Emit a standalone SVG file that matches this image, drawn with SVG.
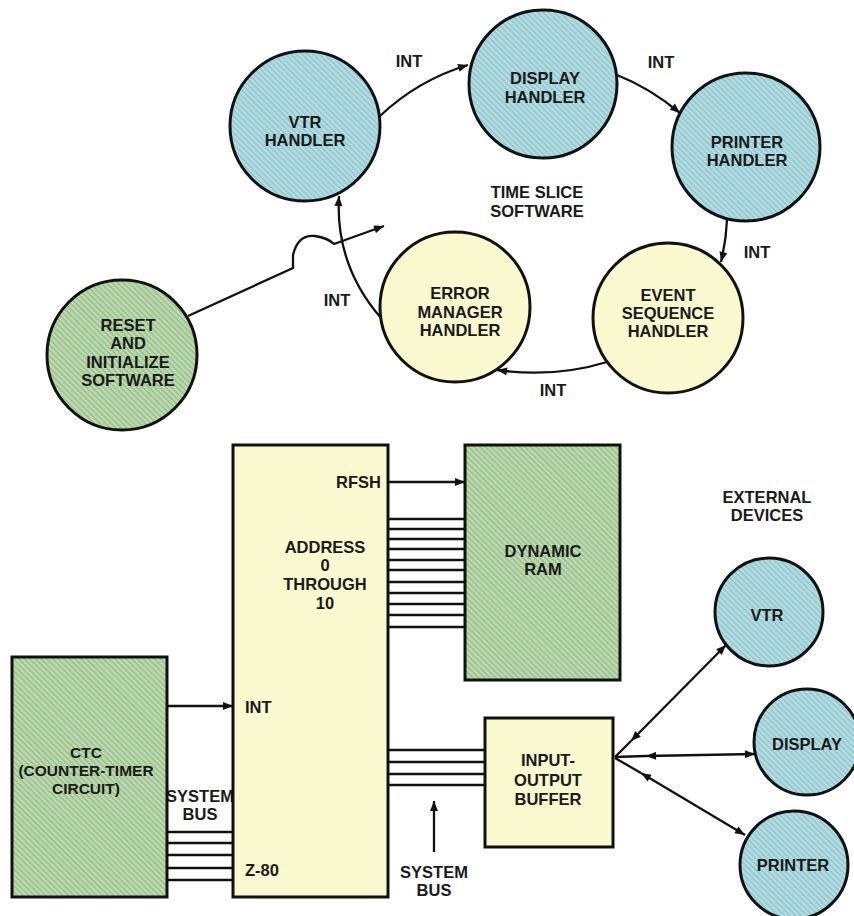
<svg xmlns="http://www.w3.org/2000/svg" width="854" height="916" viewBox="0 0 854 916">
<defs>
<pattern id="pb" width="4" height="4" patternUnits="userSpaceOnUse" patternTransform="rotate(45)">
<rect width="4" height="4" fill="#b4dde2"/><rect width="4" height="1.4" fill="#8fc3cb"/>
</pattern>
<pattern id="pg" width="4" height="4" patternUnits="userSpaceOnUse" patternTransform="rotate(45)">
<rect width="4" height="4" fill="#bedbb0"/><rect width="4" height="1.4" fill="#93bb88"/>
</pattern>
<marker id="ah" viewBox="0 0 10 8" refX="10" refY="4" markerWidth="12" markerHeight="8" markerUnits="userSpaceOnUse" orient="auto-start-reverse">
<path d="M0,0 L10,4 L0,8 Z" fill="#111"/>
</marker>
<style>
.blue{fill:url(#pb);stroke:#111;stroke-width:3}
.green{fill:url(#pg);stroke:#111;stroke-width:3}
.yel{fill:#fbf9d0;stroke:#111;stroke-width:3}
.t{font-family:"Liberation Sans",Arial,sans-serif;font-weight:bold;font-size:16.5px;fill:#1a1a1a;text-anchor:middle}
.s{font-size:15.5px}
.l{text-anchor:start}
.r{text-anchor:end}
.c{fill:none;stroke:#111;stroke-width:2.3}
.bus{stroke:#111;stroke-width:2.5}
</style>
</defs>
<rect width="854" height="916" fill="#ffffff"/>

<g id="connectors">
<path class="c" d="M380,116 Q418,80 468,65" marker-end="url(#ah)"/>
<path class="c" d="M617,75 Q650,88 680,113" marker-end="url(#ah)"/>
<path class="c" d="M727,220 Q726,242 721,262" marker-end="url(#ah)"/>
<path class="c" d="M607,362 Q555,378 497,370" marker-end="url(#ah)"/>
<path class="c" d="M381,318 Q335,265 339,196" marker-end="url(#ah)"/>
<path class="c" d="M188,316 L293,268 L293,255 Q298,234 315,236 Q328,238 334,244 L384,226" marker-end="url(#ah)"/>
<path class="c" d="M388,482 L465,482" marker-end="url(#ah)"/>
<g class="bus">
<line x1="388" y1="519" x2="465" y2="519"/>
<line x1="388" y1="529" x2="465" y2="529"/>
<line x1="388" y1="539" x2="465" y2="539"/>
<line x1="388" y1="549" x2="465" y2="549"/>
<line x1="388" y1="560" x2="465" y2="560"/>
<line x1="388" y1="570" x2="465" y2="570"/>
<line x1="388" y1="582" x2="465" y2="582"/>
<line x1="388" y1="593" x2="465" y2="593"/>
<line x1="388" y1="604" x2="465" y2="604"/>
<line x1="388" y1="615" x2="465" y2="615"/>
<line x1="388" y1="627" x2="465" y2="627"/>
</g>
<path class="c" d="M167,706 L233,706" marker-end="url(#ah)"/>
<g class="bus">
<line x1="167" y1="832" x2="233" y2="832"/>
<line x1="167" y1="843" x2="233" y2="843"/>
<line x1="167" y1="855" x2="233" y2="855"/>
<line x1="167" y1="868" x2="233" y2="868"/>
<line x1="167" y1="880" x2="233" y2="880"/>
</g>
<g class="bus">
<line x1="388" y1="750" x2="485" y2="750"/>
<line x1="388" y1="762" x2="485" y2="762"/>
<line x1="388" y1="774" x2="485" y2="774"/>
<line x1="388" y1="785" x2="485" y2="785"/>
</g>
<path class="c" d="M434,852 L434,801" marker-end="url(#ah)"/>
<path class="c" d="M615,757 L631,741"/>
<path class="c" d="M631,741 L726,645" marker-start="url(#ah)" marker-end="url(#ah)"/>
<path class="c" d="M615,757 L646,756"/>
<path class="c" d="M646,756 L755,754" marker-start="url(#ah)" marker-end="url(#ah)"/>
<path class="c" d="M615,758 L641,773"/>
<path class="c" d="M641,773 L745,835" marker-start="url(#ah)" marker-end="url(#ah)"/>
</g>

<g id="labels">
<text class="t" x="409" y="67">INT</text>
<text class="t" x="661" y="68">INT</text>
<text class="t" x="757" y="258">INT</text>
<text class="t" x="553" y="396">INT</text>
<text class="t" x="337" y="306">INT</text>
<text class="t" x="537" y="198">TIME SLICE</text>
<text class="t" x="537" y="217">SOFTWARE</text>
<text class="t" x="767" y="503">EXTERNAL</text>
<text class="t" x="767" y="521">DEVICES</text>
<text class="t" x="200" y="802">SYSTEM</text>
<text class="t" x="200" y="820">BUS</text>
<text class="t" x="434" y="878">SYSTEM</text>
<text class="t" x="434" y="896">BUS</text>
</g>

<g id="vtr-handler">
<circle class="blue" cx="305" cy="126" r="75"/>
<text class="t" x="305" y="128">VTR</text>
<text class="t" x="305" y="146">HANDLER</text>
</g>
<g id="display-handler">
<circle class="blue" cx="543" cy="84" r="74"/>
<text class="t" x="545" y="84">DISPLAY</text>
<text class="t" x="545" y="103">HANDLER</text>
</g>
<g id="printer-handler">
<circle class="blue" cx="746" cy="147" r="74"/>
<text class="t" x="747" y="148">PRINTER</text>
<text class="t" x="747" y="166">HANDLER</text>
</g>
<g id="event-sequence-handler">
<circle class="yel" cx="668" cy="318" r="75"/>
<text class="t" x="668" y="301">EVENT</text>
<text class="t" x="668" y="319">SEQUENCE</text>
<text class="t" x="668" y="337">HANDLER</text>
</g>
<g id="error-manager-handler">
<circle class="yel" cx="455" cy="307" r="75"/>
<text class="t" x="460" y="299">ERROR</text>
<text class="t" x="460" y="318">MANAGER</text>
<text class="t" x="460" y="336">HANDLER</text>
</g>
<g id="reset-initialize">
<circle class="green" cx="122" cy="355" r="75"/>
<text class="t" x="128" y="331">RESET</text>
<text class="t" x="128" y="349">AND</text>
<text class="t" x="128" y="368">INITIALIZE</text>
<text class="t" x="128" y="386">SOFTWARE</text>
</g>

<g id="z80">
<rect class="yel" x="233" y="445" width="155" height="452"/>
<text class="t r" x="381" y="488">RFSH</text>
<text class="t" x="325" y="553">ADDRESS</text>
<text class="t" x="325" y="571">0</text>
<text class="t" x="325" y="590">THROUGH</text>
<text class="t" x="325" y="609">10</text>
<text class="t l" x="245" y="713">INT</text>
<text class="t l" x="245" y="876">Z-80</text>
</g>
<g id="dynamic-ram">
<rect class="green" x="465" y="445" width="155" height="235"/>
<text class="t" x="543" y="557">DYNAMIC</text>
<text class="t" x="543" y="575">RAM</text>
</g>
<g id="ctc">
<rect class="green" x="12" y="657" width="155" height="240"/>
<text class="t s" x="86" y="758">CTC</text>
<text class="t s" x="86" y="776">(COUNTER-TIMER</text>
<text class="t s" x="86" y="794">CIRCUIT)</text>
</g>
<g id="io-buffer">
<rect class="yel" x="485" y="718" width="128" height="129"/>
<text class="t" x="548" y="766">INPUT-</text>
<text class="t" x="548" y="786">OUTPUT</text>
<text class="t" x="548" y="805">BUFFER</text>
</g>
<g id="vtr">
<circle class="blue" cx="769" cy="612" r="54"/>
<text class="t" x="767" y="621">VTR</text>
</g>
<g id="display">
<circle class="blue" cx="807" cy="742" r="53"/>
<text class="t" x="807" y="750">DISPLAY</text>
</g>
<g id="printer">
<circle class="blue" cx="794" cy="865" r="54"/>
<text class="t" x="793" y="871">PRINTER</text>
</g>
</svg>
